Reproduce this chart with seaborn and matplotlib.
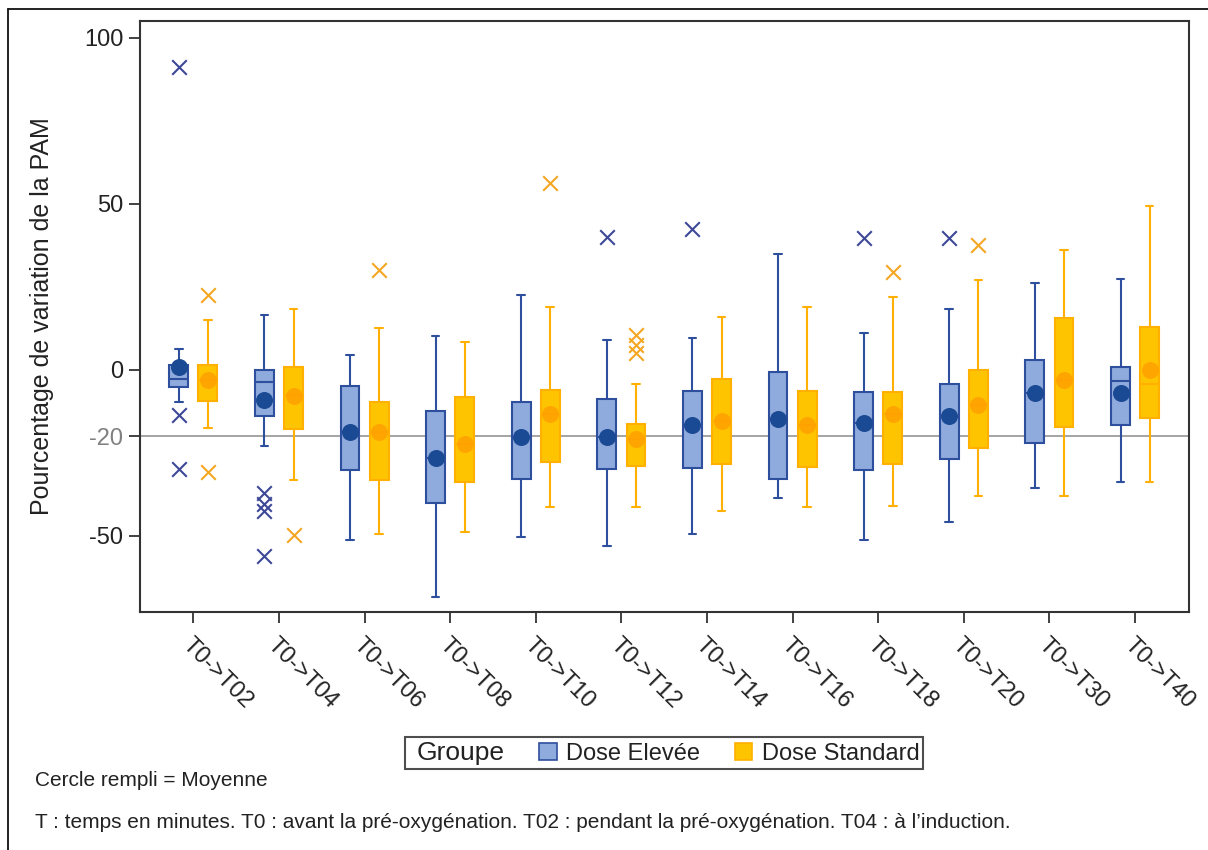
import numpy as np
import pandas as pd
import matplotlib
matplotlib.use("Agg")
import matplotlib.pyplot as plt
from matplotlib.lines import Line2D
from matplotlib.patches import Rectangle
import seaborn as sns

# ---------------- data ----------------
times = ["T0->T02", "T0->T04", "T0->T06", "T0->T08", "T0->T10", "T0->T12",
         "T0->T14", "T0->T16", "T0->T18", "T0->T20", "T0->T30", "T0->T40"]
groups = ["Dose Elevée", "Dose Standard"]

# Dose Elevée (blue): whisker low, Q1, median, Q3, whisker high, mean
hi_wlo = [-9.6, -23.1, -51.2, -68.5, -50.5, -53.0, -49.6, -38.6, -51.2, -46.0, -35.7, -33.8]
hi_q1 = [-5.3, -13.9, -30.1, -40.1, -33.0, -30.0, -29.5, -32.8, -30.3, -26.8, -22.1, -16.7]
hi_med = [-2.7, -3.8, -18.9, -26.7, -20.2, -20.4, -16.6, -14.9, -15.9, -13.9, -7.0, -3.3]
hi_q3 = [1.5, 0.0, -4.8, -12.4, -9.6, -8.7, -6.5, -0.6, -6.8, -4.3, 2.9, 0.9]
hi_whi = [6.2, 16.4, 4.4, 10.2, 22.6, 9.1, 9.6, 34.9, 11.0, 18.3, 26.2, 27.4]
hi_mean = [0.8, -9.2, -18.9, -26.7, -20.2, -20.4, -16.6, -14.9, -15.9, -13.9, -7.0, -7.0]

# Dose Standard (gold)
st_wlo = [-17.7, -33.2, -49.6, -48.9, -41.4, -41.3, -42.6, -41.3, -41.1, -37.9, -37.9, -33.8]
st_q1 = [-9.4, -18.0, -33.3, -33.7, -27.7, -29.0, -28.3, -29.2, -28.3, -23.5, -17.4, -14.4]
st_med = [-3.0, -7.5, -18.9, -22.5, -13.4, -20.9, -15.4, -16.6, -13.4, -10.6, -3.0, -4.3]
st_q3 = [1.4, 0.8, -9.8, -8.2, -6.0, -16.4, -2.8, -6.3, -6.6, -0.1, 15.5, 12.8]
st_whi = [14.9, 18.4, 12.5, 8.5, 19.0, -4.3, 16.0, 19.0, 21.8, 26.9, 36.2, 49.3]
st_mean = [-3.0, -7.9, -18.9, -22.5, -13.4, -20.9, -15.4, -16.6, -13.4, -10.6, -3.0, -0.1]

# outliers: time index and value
hi_out_t = [0, 0, 0, 1, 1, 1, 1, 5, 6, 8, 9]
hi_out_v = [91.3, -13.6, -30.0, -37.0, -40.5, -42.6, -56.2, 40.0, 42.5, 39.8, 39.8]
st_out_t = [0, 0, 1, 2, 4, 5, 5, 5, 8, 9]
st_out_v = [22.4, -30.7, -49.7, 30.1, 56.2, 10.5, 7.5, 5.0, 29.4, 37.7]

yticks = [100, 50, 0, -20, -50]
ref_value = -20

# ---------------- style ----------------
sns.set_style("white")
plt.rcParams["font.family"] = ["Liberation Sans", "DejaVu Sans"]

BLUE_FILL = "#8FAADC"
BLUE_EDGE = "#2E4F9E"
BLUE_MEAN = "#1B4A94"
BLUE_X = "#3D4896"
GOLD_FILL = "#FFC400"
GOLD_EDGE = "#FFB000"
GOLD_MEAN = "#FF9E00"
GOLD_X = "#F5A623"
TXT = "#222222"

W, H = 1208, 850
fig = plt.figure(figsize=(W / 100, H / 100), dpi=100)
ax = fig.add_axes([140 / W, 1 - 612 / H, (1189 - 140) / W, (612 - 21) / H])

OFF = 0.17
BOXW = 0.22


def long_frame(wlo, q1, med, q3, whi, offset):
    rows = []
    for i in range(len(times)):
        for v in (wlo[i], q1[i], med[i], q3[i], whi[i]):
            rows.append({"pos": i + offset, "val": v})
    return pd.DataFrame(rows)


df_hi = long_frame(hi_wlo, hi_q1, hi_med, hi_q3, hi_whi, -OFF)
df_st = long_frame(st_wlo, st_q1, st_med, st_q3, st_whi, OFF)

# reference line
ax.axhline(ref_value, color="#8c8c8c", lw=1.1, zorder=1)

common = dict(x="pos", y="val", orient="x", native_scale=True, width=BOXW,
              whis=(0, 100), showfliers=False, saturation=1, linewidth=1.5,
              capwidths=0.09, ax=ax)
sns.boxplot(data=df_hi, color=BLUE_FILL, linecolor=BLUE_EDGE, **common)
sns.boxplot(data=df_st, color=GOLD_FILL, linecolor=GOLD_EDGE, **common)

# mean markers
pos = np.arange(len(times))
sns.scatterplot(x=pos - OFF, y=hi_mean, color=BLUE_MEAN, s=150, linewidth=0,
                zorder=6, ax=ax, legend=False)
sns.scatterplot(x=pos + OFF, y=st_mean, color=GOLD_MEAN, s=150, linewidth=0,
                alpha=0.8, zorder=6, ax=ax, legend=False)

# outliers
sns.scatterplot(x=np.array(hi_out_t) - OFF, y=hi_out_v, marker="x", color=BLUE_X,
                s=110, linewidth=1.5, zorder=6, ax=ax, legend=False)
sns.scatterplot(x=np.array(st_out_t) + OFF, y=st_out_v, marker="x", color=GOLD_X,
                s=110, linewidth=1.5, zorder=6, ax=ax, legend=False)

# axes
ax.set_xlim(-0.623, 11.63)
ax.set_ylim(-73.0, 105.1)
ax.set_xticks(pos)
ax.set_xticklabels(times, rotation=-45, ha="left", va="top",
                   rotation_mode="anchor", fontsize=17, color=TXT)
ax.set_yticks(yticks)
ax.set_yticklabels([str(v) for v in yticks], fontsize=17, color=TXT)
ax.tick_params(axis="both", which="major", length=8, width=1.3, color="#333333",
               left=True, bottom=True)
ax.tick_params(axis="x", pad=8)
ax.tick_params(axis="y", pad=4)
for t, v in zip(ax.yaxis.get_major_ticks(), yticks):
    if v == ref_value:
        t.tick1line.set_color("#8c8c8c")
        t.label1.set_color("#808080")
ax.set_xlabel("")
ax.set_ylabel("Pourcentage de variation de la PAM", fontsize=18, color=TXT)
ax.yaxis.set_label_coords(-0.082, 0.5)
for s in ax.spines.values():
    s.set_visible(True)
    s.set_color("#333333")
    s.set_linewidth(1.5)

# legend ("Groupe" placed inline, as in the original)
handles = [Rectangle((0, 0), 1, 1, alpha=0),
           Rectangle((0, 0), 1, 1, facecolor=BLUE_FILL, edgecolor=BLUE_EDGE, lw=1.2),
           Rectangle((0, 0), 1, 1, facecolor=GOLD_FILL, edgecolor=GOLD_EDGE, lw=1.2)]
labels = ["Groupe"] + groups
leg = fig.legend(handles, labels, loc="center", bbox_to_anchor=(664 / W, 1 - 753 / H),
                 ncol=3, fontsize=17, frameon=True, fancybox=False, shadow=False,
                 handlelength=0.75, handleheight=0.75, handletextpad=0.4,
                 columnspacing=1.45, borderpad=0.15, borderaxespad=0)
leg.get_frame().set_edgecolor("#222222")
leg.get_frame().set_linewidth(1.5)
leg.get_texts()[0].set_fontsize(19)
for t in leg.get_texts():
    t.set_color(TXT)
try:
    first_item = leg._legend_handle_box.get_children()[0].get_children()[0]
    first_item.get_children()[0].width = 6
    first_item.sep = 0
except Exception:
    pass

# footnotes
fig.text(35 / W, 1 - 781 / H, "Cercle rempli = Moyenne", fontsize=15,
         color=TXT, ha="left", va="center")
fig.text(35 / W, 1 - 823 / H,
         "T : temps en minutes. T0 : avant la pré-oxygénation. T02 : pendant la pré-oxygénation. T04 : à l’induction.",
         fontsize=15, color=TXT, ha="left", va="center")

# outer frame (top and left)
fig.add_artist(Line2D([8 / W, 1], [1 - 9 / H, 1 - 9 / H], color="#111111", lw=1.3,
                      transform=fig.transFigure))
fig.add_artist(Line2D([8 / W, 8 / W], [0, 1 - 9 / H], color="#111111", lw=1.3,
                      transform=fig.transFigure))

fig.savefig("out.png", dpi=100)
